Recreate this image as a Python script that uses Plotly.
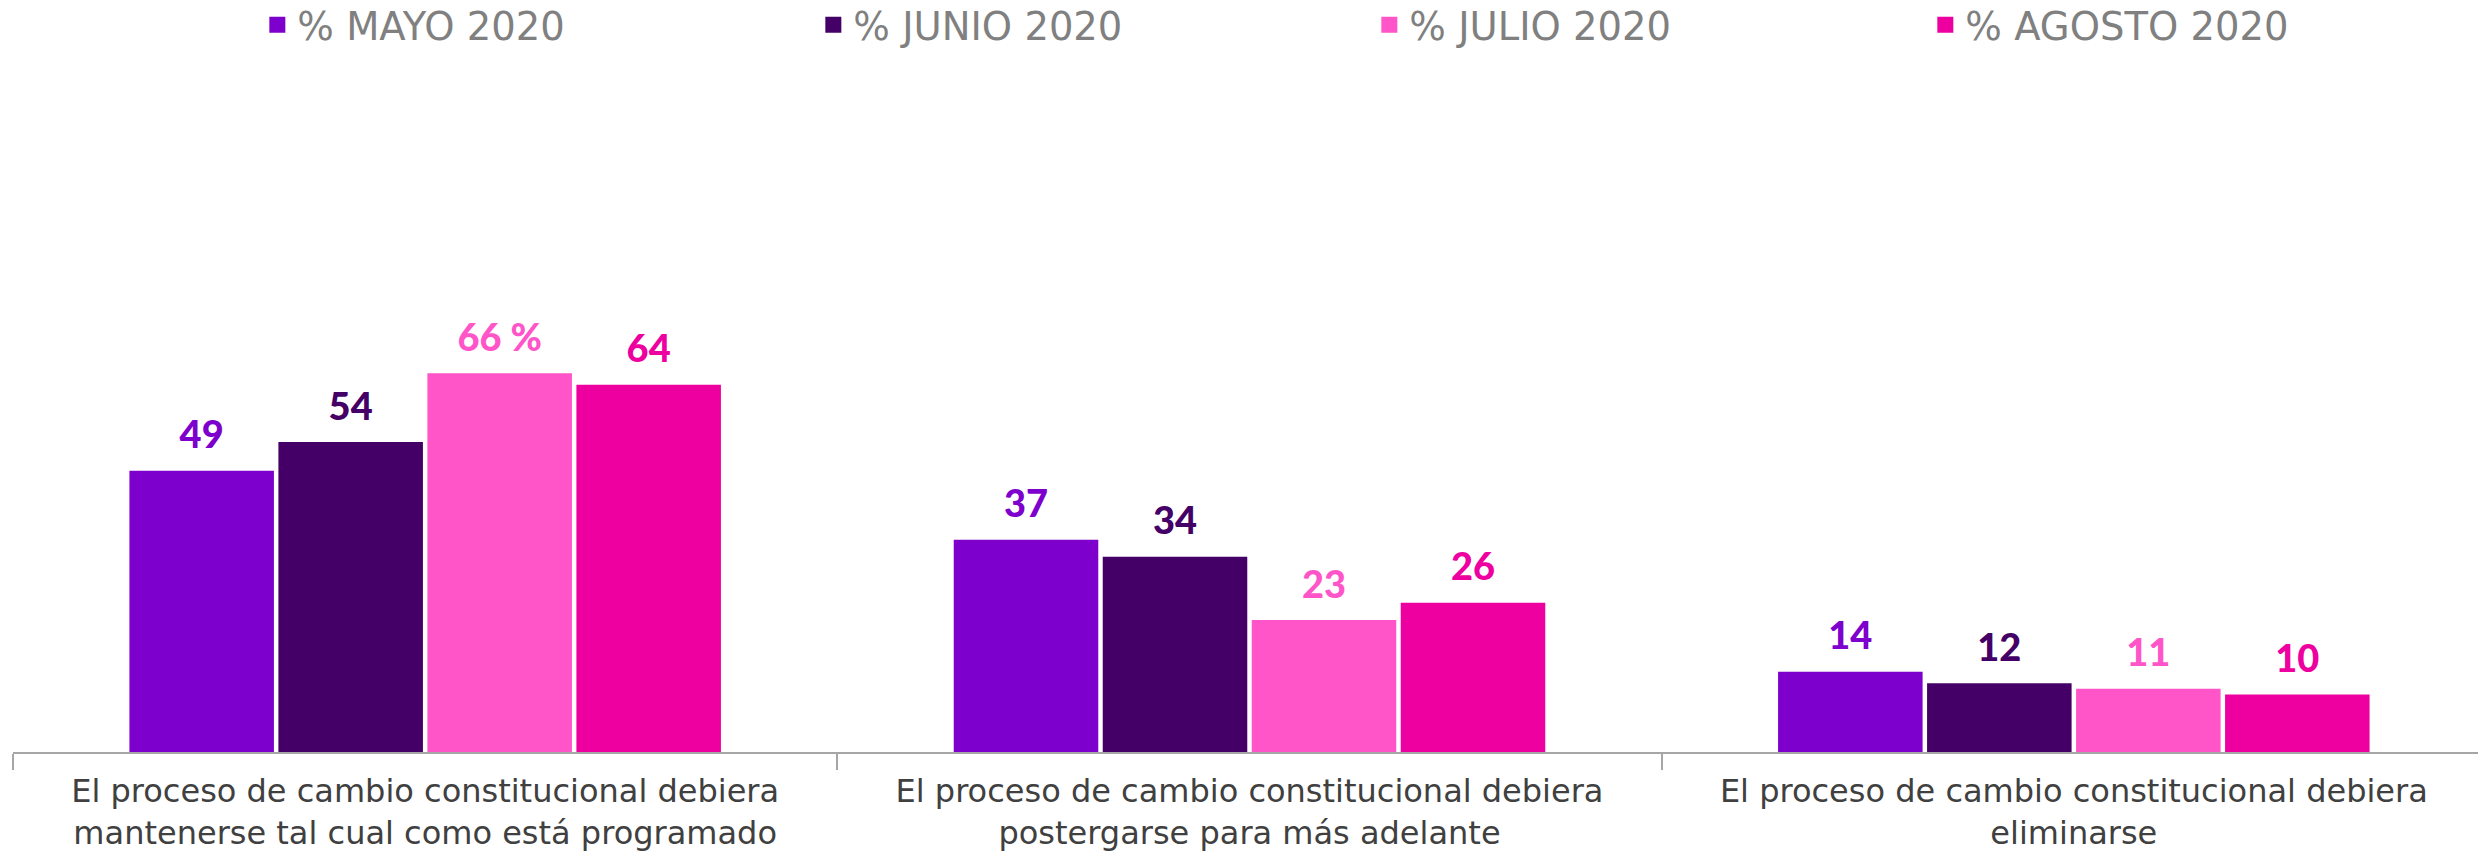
import plotly.graph_objects as go

categories = [
    "El proceso de cambio constitucional debiera<br>mantenerse tal cual como está programado",
    "El proceso de cambio constitucional debiera<br>postergarse para más adelante",
    "El proceso de cambio constitucional debiera<br>eliminarse",
]
series_names = ["% MAYO 2020", "% JUNIO 2020", "% JULIO 2020", "% AGOSTO 2020"]
mayo = [49, 37, 14]
junio = [54, 34, 12]
julio = [66, 23, 11]
agosto = [64, 26, 10]
labels_mayo = ["49", "37", "14"]
labels_junio = ["54", "34", "12"]
labels_julio = ["66 %", "23", "11"]
labels_agosto = ["64", "26", "10"]
colors = ["#7E00CC", "#440066", "#FF55C8", "#EE00A0"]

values = [mayo, junio, julio, agosto]
labels = [labels_mayo, labels_junio, labels_julio, labels_agosto]

fig = go.Figure()
for name, vals, col in zip(series_names, values, colors):
    fig.add_trace(go.Bar(
        x=categories, y=vals, name=name, showlegend=False,
        marker=dict(color=col, line=dict(width=0)),
        hoverinfo="skip",
    ))
for name, vals, labs, col in zip(series_names, values, labels, colors):
    fig.add_trace(go.Scatter(
        x=categories, y=vals, text=labs, mode="markers+text",
        textposition="top center", cliponaxis=False, showlegend=False,
        marker=dict(size=19, opacity=0, color=col),
        textfont=dict(family="Lato", size=38, color=col, weight=900),
        hoverinfo="skip",
    ))
# legend entries (square swatches) on a hidden overlay axis
for name, col in zip(series_names, colors):
    fig.add_trace(go.Scatter(
        x=[None], y=[None], name=name, mode="markers",
        marker=dict(symbol="square", size=16, color=col),
        xaxis="x2", yaxis="y2", hoverinfo="skip",
    ))

fig.update_layout(
    width=2478, height=844,
    margin=dict(l=5, r=0, t=92, b=100),
    paper_bgcolor="white", plot_bgcolor="white",
    barmode="group", bargap=0.277, bargroupgap=0.03,
    scattermode="group", scattergap=0.277,
    showlegend=True,
    legend=dict(
        orientation="h", x=0.0988, xanchor="left",
        y=0.9797, yanchor="middle", yref="container", valign="middle",
        font=dict(family="DejaVu Sans", size=38.5, color="#808080"),
        entrywidth=511, entrywidthmode="pixels", itemsizing="trace",
    ),
    font=dict(family="DejaVu Sans"),
    xaxis=dict(
        showline=True, linecolor="#A6A6A6", linewidth=2,
        ticks="outside", tickson="boundaries", ticklen=16, tickcolor="#A6A6A6", tickwidth=2,
        tickfont=dict(family="DejaVu Sans", size=32, color="#404040"),
        ticklabelstandoff=10, automargin=False,
        showgrid=False,
    ),
    yaxis=dict(range=[0, 113.6], visible=False, showgrid=False, automargin=False),
    xaxis2=dict(overlaying="x", visible=False, range=[0, 1]),
    yaxis2=dict(overlaying="y", visible=False, range=[0, 1]),
)

fig.write_html("out.html")
